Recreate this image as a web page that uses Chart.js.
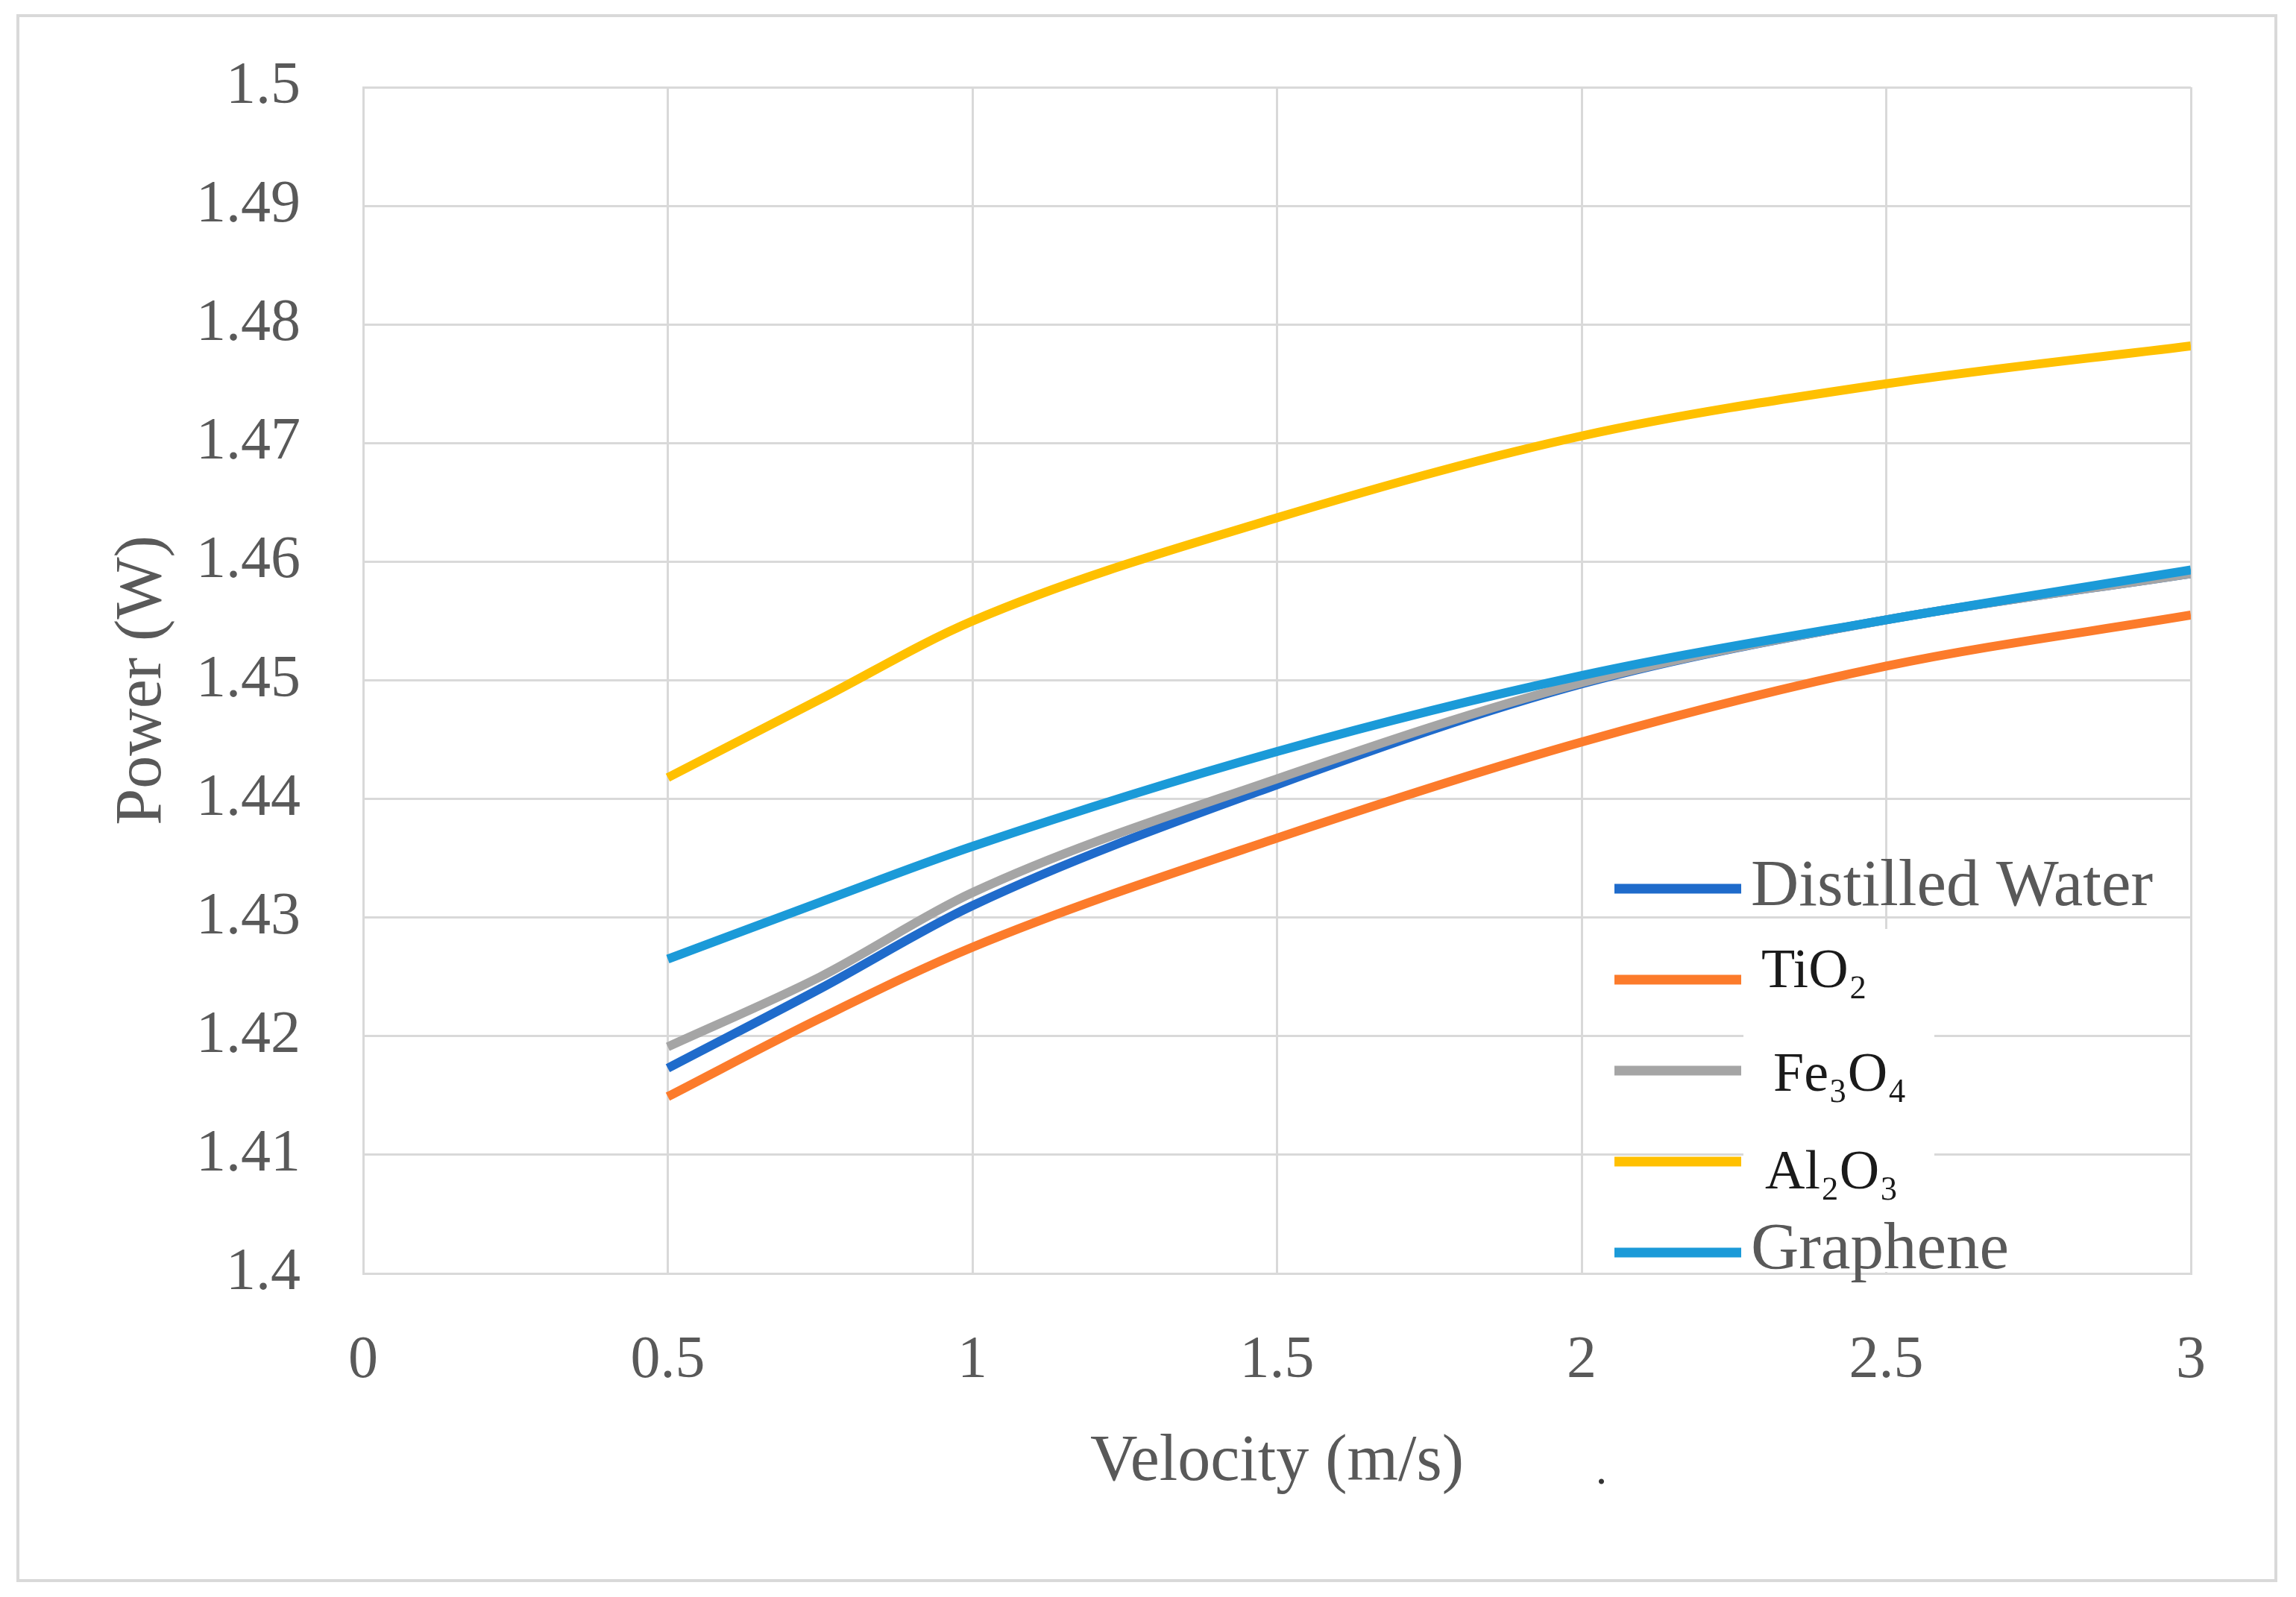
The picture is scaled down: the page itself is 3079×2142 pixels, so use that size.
<!DOCTYPE html>
<html>
<head>
<meta charset="utf-8">
<script src="https://cdn.jsdelivr.net/npm/chart.js@4.4.1/dist/chart.umd.min.js"></script>
<style>
    html, body { margin: 0; padding: 0; background: #fff; }
    #wrap { width: 3079px; height: 2142px; }
</style>
</head>
<body>
<div id="wrap"><canvas id="powerChart" width="3079" height="2142"></canvas></div>
<script>
// Data
const velocity = [0.5, 0.75, 1, 1.5, 2, 2.5, 3];
const seriesNames = ['Distilled Water', 'TiO₂', 'Fe₃O₄', 'Al₂O₃', 'Graphene'];
const distilledWater = [1.4173, 1.4240, 1.4310, 1.4412, 1.4497, 1.4551, 1.4590];
const tio2 = [1.4149, 1.4215, 1.4275, 1.4367, 1.4448, 1.4512, 1.4555];
const fe3o4 = [1.4191, 1.4250, 1.4321, 1.4417, 1.4498, 1.4551, 1.4590];
const al2o3 = [1.4418, 1.4484, 1.4550, 1.4637, 1.4706, 1.4750, 1.4782];
const graphene = [1.4265, 1.4313, 1.4360, 1.4440, 1.4504, 1.4551, 1.4593];
const xTicks = [0, 0.5, 1, 1.5, 2, 2.5, 3];
const yTicks = [1.4, 1.41, 1.42, 1.43, 1.44, 1.45, 1.46, 1.47, 1.48, 1.49, 1.5];

const seriesValues = [distilledWater, tio2, fe3o4, al2o3, graphene];
const seriesColors = ['#1f6bcb', '#fc7b2b', '#a5a5a5', '#ffc000', '#1b9ad8'];

const serif = '"Liberation Serif", "DejaVu Serif", serif';
const textGray = '#595959';
const gridGray = '#d9d9d9';

// Frame around the whole picture
const frame = {
    id: 'frame',
    beforeDraw(chart) {
        const ctx = chart.ctx;
        ctx.save();
        ctx.fillStyle = '#fff';
        ctx.fillRect(0, 0, chart.width, chart.height);
        ctx.strokeStyle = gridGray;
        ctx.lineWidth = 4;
        ctx.strokeRect(24, 21, 3028, 2099);
        ctx.restore();
    }
};

// Legend sits inside the plot, lower right
const legendPos = { lineX: 2165, lineLen: 170, textX: 2348, firstY: 1192, rowGap: 122 };
const legendTextDy = [22, 10, 27, 36, 21];
const legendTextDx = [0, 14, 30, 19, 0];
const formulaRows = [1, 2, 3];

const insideLegend = {
    id: 'insideLegend',
    afterDatasetsDraw(chart) {
        const ctx = chart.ctx;
        ctx.save();
        // white patch behind the pasted formula labels
        ctx.fillStyle = '#fff';
        ctx.fillRect(2338, 1246, 256, 460);

        chart.data.datasets.forEach((ds, i) => {
            const y = legendPos.firstY + i * legendPos.rowGap;
            ctx.strokeStyle = ds.borderColor;
            ctx.lineWidth = 13;
            ctx.lineCap = 'butt';
            ctx.beginPath();
            ctx.moveTo(legendPos.lineX, y);
            ctx.lineTo(legendPos.lineX + legendPos.lineLen, y);
            ctx.stroke();

            const isFormula = formulaRows.includes(i);
            ctx.font = isFormula ? '74px ' + serif : '89px ' + serif;
            ctx.fillStyle = isFormula ? '#1a1a1a' : textGray;
            ctx.textBaseline = 'alphabetic';
            ctx.textAlign = 'left';
            ctx.fillText(ds.label, legendPos.textX + legendTextDx[i], y + legendTextDy[i]);
        });

        // stray full stop after the axis title
        ctx.font = '60px ' + serif;
        ctx.fillStyle = '#333';
        ctx.fillText('.', 2140, 1990);
        ctx.restore();
    }
};

const ctx = document.getElementById('powerChart').getContext('2d');
new Chart(ctx, {
    type: 'line',
    data: {
        datasets: seriesNames.map((name, i) => ({
            label: name,
            data: velocity.map((v, k) => ({ x: v, y: seriesValues[i][k] })),
            borderColor: seriesColors[i],
            backgroundColor: seriesColors[i],
            borderWidth: 12,
            pointRadius: 0,
            fill: false,
            cubicInterpolationMode: 'monotone',
            order: seriesNames.length - i
        }))
    },
    options: {
        responsive: false,
        devicePixelRatio: 1,
        animation: false,
        layout: { padding: { left: 0, top: 117, right: 141, bottom: 0 } },
        plugins: {
            legend: { display: false },
            tooltip: { enabled: false }
        },
        scales: {
            x: {
                type: 'linear',
                min: 0,
                max: 3,
                afterBuildTicks: scale => { scale.ticks = xTicks.map(v => ({ value: v })); },
                afterFit: scale => { scale.height = 434; },
                ticks: {
                    callback: v => String(v),
                    font: { family: serif, size: 80 },
                    color: textGray,
                    padding: 70,
                    maxRotation: 0,
                    autoSkip: false
                },
                grid: { color: gridGray, lineWidth: 3, drawTicks: false },
                border: { display: true, color: gridGray, width: 3 },
                title: {
                    display: true,
                    text: 'Velocity (m/s)',
                    font: { family: serif, size: 88 },
                    color: textGray,
                    padding: { top: 0, bottom: 127 }
                }
            },
            y: {
                min: 1.4,
                max: 1.5,
                afterBuildTicks: scale => { scale.ticks = yTicks.map(v => ({ value: v })); },
                afterFit: scale => {
                    scale.width = 487;
                    // tick padding should not push the plot area down
                    scale.paddingTop = 0;
                    scale.paddingBottom = 0;
                },
                ticks: {
                    callback: v => String(v),
                    font: { family: serif, size: 80 },
                    color: textGray,
                    padding: 84,
                    autoSkip: false
                },
                grid: { color: gridGray, lineWidth: 3, drawTicks: false },
                border: { display: true, color: gridGray, width: 3 },
                title: {
                    display: true,
                    text: 'Power (W)',
                    font: { family: serif, size: 88 },
                    color: textGray,
                    padding: { top: 139, bottom: 0 }
                }
            }
        }
    },
    plugins: [frame, insideLegend]
});
</script>
</body>
</html>
